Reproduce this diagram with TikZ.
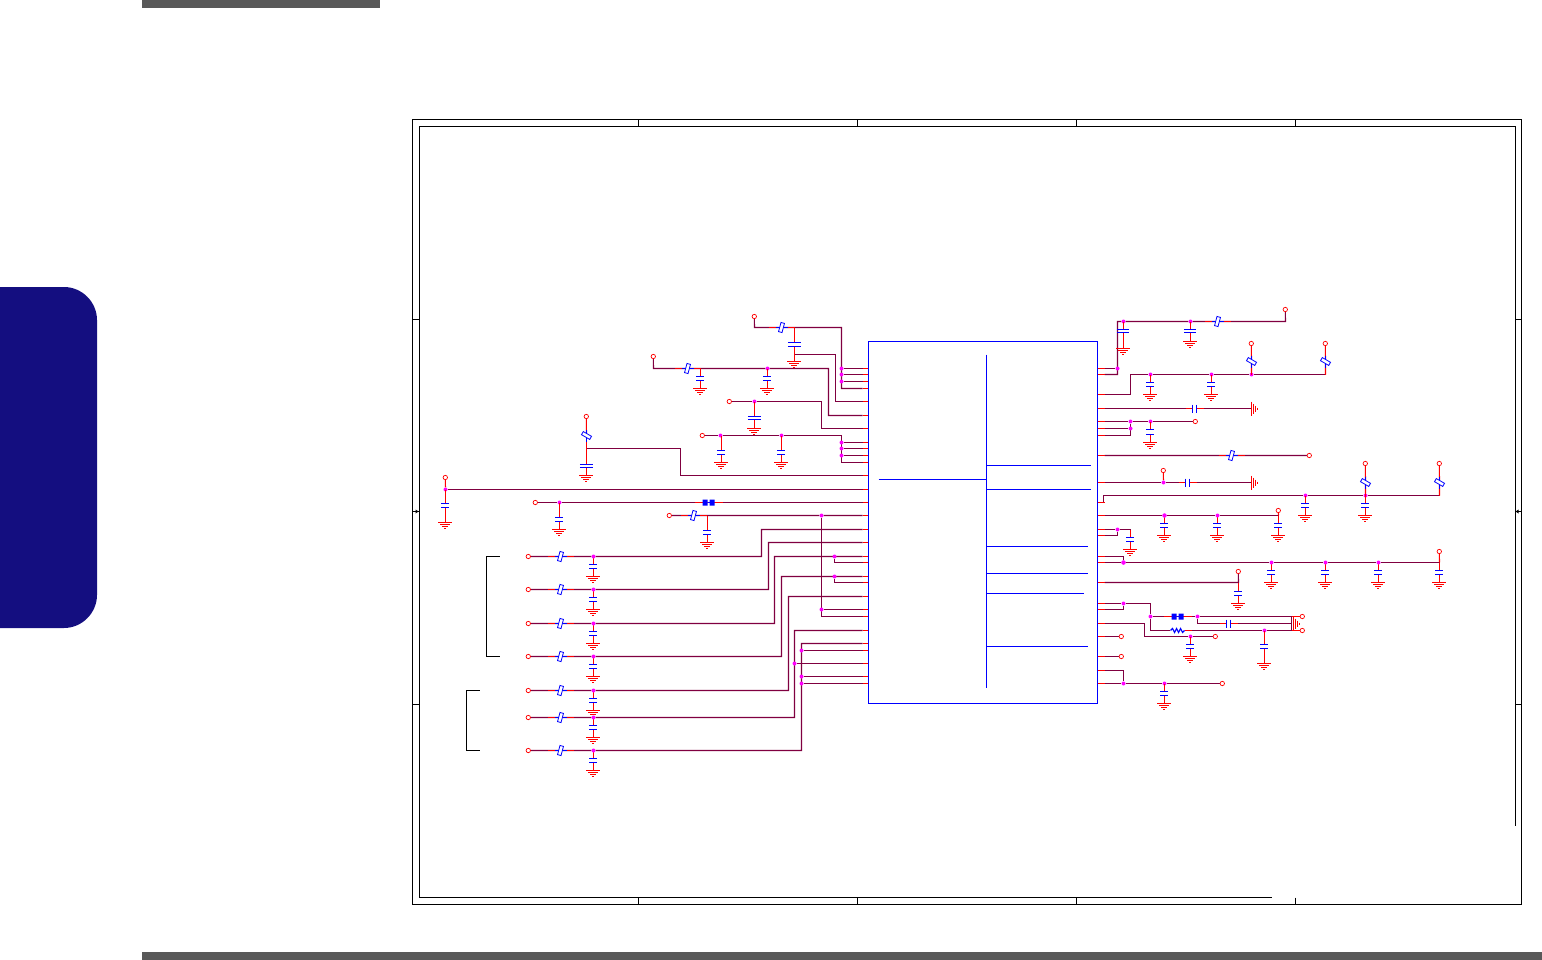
\documentclass[tikz,border=0pt]{standalone}
\usetikzlibrary{backgrounds}

\definecolor{netcol}{RGB}{128,0,64}
\definecolor{tabcol}{RGB}{20,14,128}
\definecolor{barcol}{RGB}{89,89,89}
\definecolor{dotcol}{RGB}{255,0,255}

\tikzset{
    wire/.style={draw=netcol,line width=1.1pt},
    stub/.style={draw=red,line width=1.1pt},
    body/.style={draw=blue,line width=1.1pt},
    frameline/.style={draw=black,line width=1.2pt},
    pad/.style={circle,draw=red,fill=white,line width=0.7pt,inner sep=0pt,minimum size=4.4pt,xshift=-0.2pt},
    junc/.style={circle,fill=dotcol,inner sep=0pt,minimum size=4pt},
    res/.style={rectangle,draw=blue,fill=white,line width=0.8pt,inner sep=0pt,
        minimum width=3.6pt,minimum height=9.5pt,rotate=-15},
    resup/.style={res,rotate=75},
    gap/.style={rectangle,inner sep=0pt,minimum width=4pt,minimum height=8pt},
    chip/.style={rectangle,draw=blue,line width=1.1pt,inner sep=0pt,
        minimum width=229pt,minimum height=362pt}
}

% ground pointing down, then ground pointing right
\newcommand{\gnd}[2]{
    \foreach \g/\h in {0/7,2/5,4/3,6/1}
        \draw[stub] (#1-\h,#2+\g) -- (#1+\h,#2+\g);
}
\newcommand{\gndr}[2]{
    \foreach \g/\h in {0/7,2/5,4/3,6/1}
        \draw[stub] (#1+\g,#2-\h) -- (#1+\g,#2+\h);
}
% x, wire y, first plate, second plate, ground y, half plate
\newcommand{\capg}[6]{
    \begin{scope}[xshift=-0.15pt]
    \draw[stub] (#1,#2) -- (#1,#3) (#1,#4) -- (#1,#5);
    \draw[body] (#1-#6,#3) -- (#1+#6,#3) (#1-#6,#4) -- (#1+#6,#4);
    \gnd{#1}{#5}
    \end{scope}
}
% name, first plate x, second plate x, y
\newcommand{\caph}[4]{
    \node[gap] (#1) at ({(#2+#3)/2},#4) {};
    \draw[stub] (#2-7,#4) -- (#2,#4) (#3,#4) -- (#3+7,#4);
    \draw[body] (#2,#4-4) -- (#2,#4+4) (#3,#4-4) -- (#3,#4+4);
}
% name, x, y
\newcommand{\resh}[3]{
    \draw[stub] (#2-13,#3) -- (#2+13,#3);
    \draw[body] (#2-6,#3) -- (#2+6,#3);
    \node[res] (#1) at (#2,#3) {};
}
\newcommand{\resv}[3]{
    \draw[stub] (#2,#3-13) -- (#2,#3+13);
    \draw[body] (#2,#3-6) -- (#2,#3+6);
    \node[resup] (#1) at (#2,#3) {};
}
\newcommand{\fuse}[3]{
    \draw[stub] (#2-14,#3) -- (#2+14,#3);
    \node[gap,minimum width=12pt,minimum height=6pt] (#1) at (#2,#3) {};
    \fill[blue] (#2-6,#3-3) rectangle (#2-1,#3+3) (#2+1,#3-3) rectangle (#2+6,#3+3);
    \draw[body] (#2-1,#3) -- (#2+1,#3);
}

\begin{document}
\begin{tikzpicture}[x=1pt,y=-1pt]
    \useasboundingbox (0,0) rectangle (1542,960);

    % Page furniture
    \fill[barcol] (142,0) rectangle (380,8);
    \fill[barcol] (142,952) rectangle (1542,960);
    \fill[tabcol] (0,287) -- (64,287) .. controls (82,287) and (97,302) .. (97,320)
        -- (97,595) .. controls (97,613) and (82,628) .. (64,628) -- (0,628) -- cycle;

    \begin{scope}[shift={(0.5,0.5)}]
    % Sheet frame
    \draw[frameline] (412,119) rectangle (1521,904);
    \draw[frameline] (1271,897) -- (419,897) -- (419,126) -- (1515,126) -- (1515,825);
    \foreach \x in {638,857,1076,1295} {
        \draw[frameline] (\x,119) -- (\x,126);
        \draw[frameline] (\x,897) -- (\x,904);
    }
    \foreach \y in {319,511,704} {
        \draw[frameline] (412,\y) -- (419,\y);
        \draw[frameline] (1515,\y) -- (1521,\y);
    }
    \fill[black] (415,509) -- (418,511) -- (415,513) -- cycle;
    \fill[black] (1518,509) -- (1515,511) -- (1518,513) -- cycle;

    % Chip pins
    \foreach \y in {368,374,381,388,401,415,428,442,448,455,462,475,489,502,515,529,542,
                    556,562,576,582,596,609,616,630,643,650,663,676,683} {
        \coordinate (L\y) at (862,\y);
        \draw[stub] (L\y) -- (868,\y);
    }
    \foreach \y in {368,374,394,408,421,428,435,455,482,502,515,529,535,556,562,582,
                    603,609,623,636,656,670,683} {
        \coordinate (R\y) at (1104,\y);
        \draw[stub] (1097,\y) -- (R\y);
    }

    % Chip body
    \node[chip] (U1) at (982.5,522) {};
    \draw[body] (986,354) -- (986,687);
    \draw[body] (878,479) -- (986,479);
    \foreach \y/\x in {465/1090,489/1090,546/1087,573/1087,593/1083,646/1087}
        \draw[body] (986,\y) -- (\x,\y);

    % Left inputs, top group
    \node[pad] (PA) at (754,316) {};
    \resh{RA}{781}{327}
    \capg{794}{327}{342}{346}{361}{6.5}
    \foreach \n/\y in {1/368,2/374,3/381}
        \node[junc] (JA\n) at (841,\y) {};

    \node[pad] (PB) at (653,356) {};
    \resh{RB}{687}{368}
    \node[junc] (JB) at (767,368) {};
    \capg{700}{368}{376}{380}{388}{4}
    \capg{767}{368}{376}{380}{388}{4}

    \node[pad] (PC) at (729,401) {};
    \node[junc] (JC) at (754,401) {};
    \capg{754}{401}{416}{419}{428}{6.5}

    \node[pad] (PD) at (702,435) {};
    \node[junc] (JD1) at (720,435) {};
    \node[junc] (JD2) at (781,435) {};
    \capg{721}{435}{450}{454}{462}{4}
    \capg{781}{435}{450}{454}{462}{4}
    \foreach \n/\y in {3/442,4/448,5/455}
        \node[junc] (JD\n) at (841,\y) {};

    \node[pad] (PE) at (586,416) {};
    \resv{RE}{586}{435}
    \capg{586}{448}{464}{467}{475}{6.5}

    \node[pad] (PF) at (445,477) {};
    \node[junc] (JF) at (445,489) {};
    \capg{445}{489}{503}{507}{522}{4}

    \node[pad] (PG) at (535,502) {};
    \node[junc] (JG) at (559,502) {};
    \capg{559}{502}{517}{521}{529}{4}
    \fuse{FG}{708}{502}

    \node[pad] (PH) at (669,515) {};
    \resh{RH}{693}{515}
    \capg{707}{515}{530}{534}{542}{4}
    \node[junc] (JH) at (821,515) {};
    \node[junc] (JI) at (821,609) {};

    % Left inputs, seven rows
    \foreach \n/\y in {1/556,2/589,3/623,4/656,5/690,6/717,7/750} {
        \capg{593}{\y}{\y+8}{\y+12}{\y+20}{4}
        \node[pad] (P\n) at (528,\y) {};
        \resh{S\n}{560}{\y}
        \node[junc] (J\n) at (593,\y) {};
    }
    \node[junc] (JP3) at (834,556) {};
    \node[junc] (JP4) at (834,576) {};
    \node[junc] (JP6) at (794,663) {};
    \node[junc] (JP7) at (801,650) {};
    \node[junc] (JP8) at (801,676) {};
    \node[junc] (JP9) at (801,683) {};

    % Brackets
    \draw[frameline] (499,556) -- (486,556) -- (486,656) -- (499,656);
    \draw[frameline] (479,690) -- (466,690) -- (466,750) -- (479,750);

    % Right outputs, upper half
    \node[junc] (JU0) at (1117,368) {};
    \node[junc] (JU1) at (1123,321) {};
    \node[junc] (JU2) at (1190,321) {};
    \resh{RU}{1217}{321}
    \node[pad] (PU) at (1285,309) {};
    \capg{1123}{321}{329}{332}{348}{6}
    \capg{1190}{321}{329}{332}{341}{6}

    \node[junc] (JV1) at (1150,374) {};
    \node[junc] (JV2) at (1211,374) {};
    \node[junc] (JV3) at (1251,374) {};
    \capg{1150}{374}{382}{386}{394}{4}
    \capg{1211}{374}{382}{386}{394}{4}
    \resv{RV1}{1251}{361}
    \resv{RV2}{1325}{361}
    \node[pad] (PV1) at (1251,343) {};
    \node[pad] (PV2) at (1325,343) {};

    \caph{CW}{1192}{1196}{408}
    \gndr{1251}{408}

    \node[junc] (JW1) at (1130,421) {};
    \node[junc] (JW2) at (1150,421) {};
    \node[junc] (JW3) at (1130,428) {};
    \node[pad] (PW) at (1195,421) {};
    \capg{1150}{421}{429}{434}{442}{4}

    \resh{RX}{1231}{455}
    \node[pad] (PX) at (1309,455) {};

    \node[junc] (JY) at (1163,482) {};
    \node[pad] (PY) at (1163,470) {};
    \caph{CY}{1185}{1189}{482}
    \gndr{1251}{482}

    \node[junc] (JZ1) at (1305,495) {};
    \node[junc] (JZ2) at (1365,495) {};
    \capg{1305}{495}{503}{507}{515}{4}
    \capg{1365}{495}{503}{507}{515}{4}
    \resv{RZ1}{1365}{482}
    \resv{RZ2}{1439}{482}
    \node[pad] (PZ1) at (1365,463) {};
    \node[pad] (PZ2) at (1439,463) {};

    % Right outputs, lower half
    \foreach \x in {1164,1217,1278}
        \capg{\x}{515}{523}{527}{535}{4}
    \node[junc] (JK1) at (1164,515) {};
    \node[junc] (JK2) at (1217,515) {};
    \node[pad] (PK) at (1278,510) {};

    \node[junc] (JM) at (1117,529) {};
    \capg{1130}{529}{537}{541}{549}{4}

    \foreach \x in {1271,1325,1378,1439}
        \capg{\x}{562}{570}{574}{582}{4}
    \node[junc] (JN0) at (1123,562) {};
    \node[junc] (JN1) at (1271,562) {};
    \node[junc] (JN2) at (1325,562) {};
    \node[junc] (JN3) at (1378,562) {};
    \node[pad] (PN) at (1439,551) {};

    \node[pad] (PO) at (1238,571) {};
    \capg{1238}{582}{591}{595}{603}{4}

    \node[junc] (JQ0) at (1123,603) {};
    \node[junc] (JQ1) at (1150,616) {};
    \node[junc] (JQ2) at (1197,616) {};
    \node[junc] (JQ3) at (1264,630) {};
    \fuse{FQ}{1177}{616}
    \caph{CQ}{1226}{1230}{623}
    \draw[stub] (1170,630) -- (1191,630);
    \node[gap,minimum width=14pt] (RQ) at (1177,630) {};
    \fill[white] (1170,626) rectangle (1184,634);
    \draw[body] (1170,630) -- (1172,628) -- (1174,632) -- (1176,628) -- (1178,632)
        -- (1180,628) -- (1182,632) -- (1184,630);
    \capg{1264}{630}{644}{648}{663}{4}
    \gndr{1293}{623}
    \draw[stub] (1291,616) -- (1300,616) (1291,630) -- (1300,630);
    \node[pad] (PQ1) at (1302,616) {};
    \node[pad] (PQ2) at (1302,630) {};

    \node[junc] (JS) at (1190,636) {};
    \node[pad] (PS) at (1215,636) {};
    \capg{1190}{636}{644}{648}{656}{4}
    \node[pad] (PT1) at (1121,636) {};
    \node[pad] (PT2) at (1121,656) {};

    \node[junc] (JW0) at (1123,683) {};
    \node[junc] (JW4) at (1164,683) {};
    \node[pad] (PW2) at (1222,683) {};
    \capg{1164}{683}{691}{695}{703}{4}

    % Wires under the symbols
    \begin{scope}[on background layer]
    % Left side
    \coordinate (A0) at (754,327);
    \coordinate (A1) at (841,327);
    \coordinate (A2) at (794,354);
    \coordinate (A3) at (835,354);
    \draw[wire] (PA) -- (A0) -- (RA) -- (A1) |- (L388);
    \foreach \n/\y in {1/368,2/374,3/381}
        \draw[wire] (JA\n) -- (L\y);
    \draw[wire] (A2) -- (A3) |- (L401);

    \coordinate (B0) at (653,368);
    \coordinate (B1) at (828,368);
    \draw[wire] (PB) -- (B0) -- (RB) -- (JB) -- (B1) |- (L415);

    \coordinate (C1) at (821,401);
    \draw[wire] (PC) -- (JC) -- (C1) |- (L428);

    \coordinate (D1) at (841,435);
    \draw[wire] (PD) -- (JD1) -- (JD2) -- (D1) |- (L462);
    \foreach \n/\y in {3/442,4/448,5/455}
        \draw[wire] (JD\n) -- (L\y);

    \coordinate (E0) at (586,448);
    \coordinate (E1) at (680,448);
    \draw[stub] (PE) -- (RE);
    \draw[wire] (E0) -- (E1) |- (L475);

    \draw[stub] (PF) -- (JF);
    \draw[wire] (JF) -- (L489);
    \draw[wire] (PG) -- (JG) -- (FG) -- (L502);
    \draw[wire] (PH) -- (RH) -- (JH) -- (L515);
    \coordinate (H1) at (821,616);
    \draw[wire] (JH) -- (H1) -- (L616);
    \draw[wire] (JI) -- (L609);

    \foreach \n/\x/\t in {1/761/529,2/768/542,3/774/556,4/781/576,5/788/596,6/794/630,7/801/643} {
        \coordinate (K\n) at (\x,\t);
        \draw[wire] (P\n) -- (S\n) -- (J\n) -| (K\n) -- (L\t);
    }
    \draw[wire] (JP3) |- (L562);
    \draw[wire] (JP4) |- (L582);
    \draw[wire] (JP6) -- (L663);
    \draw[wire] (JP7) -- (L650);
    \draw[wire] (JP8) -- (L676);
    \draw[wire] (JP9) -- (L683);

    % Right side
    \coordinate (U0) at (1117,374);
    \coordinate (U2) at (1117,321);
    \coordinate (U3) at (1285,321);
    \draw[wire] (R368) -- (JU0);
    \draw[wire] (R374) -- (U0) -- (U2) -- (JU1) -- (JU2) -- (RU) -- (U3) -- (PU);

    \coordinate (V0) at (1130,394);
    \coordinate (V1) at (1130,374);
    \coordinate (V2) at (1325,374);
    \draw[wire] (R394) -- (V0) -- (V1) -- (JV1) -- (JV2) -- (JV3) -- (V2);
    \draw[stub] (JV3) -- (RV1) -- (PV1);
    \draw[stub] (V2) -- (RV2) -- (PV2);

    \coordinate (GW) at (1251,408);
    \draw[wire] (R408) -- (CW) -- (GW);

    \coordinate (W0) at (1130,435);
    \draw[wire] (R421) -- (JW1) -- (JW2) -- (PW);
    \draw[wire] (R428) -- (JW3);
    \draw[wire] (R435) -- (W0) -- (JW1);

    \draw[wire] (R455) -- (RX) -- (PX);

    \coordinate (GY) at (1251,482);
    \draw[wire] (R482) -- (JY) -- (CY) -- (GY);
    \draw[stub] (JY) -- (PY);

    \coordinate (Z0) at (1103,502);
    \coordinate (Z1) at (1103,495);
    \coordinate (Z2) at (1439,495);
    \draw[wire] (R502) -- (Z0) -- (Z1) -- (JZ1) -- (JZ2) -- (Z2);
    \draw[stub] (JZ2) -- (RZ1) -- (PZ1);
    \draw[stub] (Z2) -- (RZ2) -- (PZ2);

    \coordinate (K0) at (1278,515);
    \draw[wire] (R515) -- (JK1) -- (JK2) -- (K0);
    \draw[stub] (K0) -- (PK);

    \coordinate (M0) at (1130,529);
    \coordinate (M1) at (1117,535);
    \draw[wire] (R529) -- (JM) -- (M0);
    \draw[wire] (R535) -- (M1) -- (JM);

    \coordinate (N0) at (1123,556);
    \coordinate (N1) at (1439,562);
    \draw[wire] (R556) -- (N0) -- (JN0);
    \draw[wire] (R562) -- (JN0) -- (JN1) -- (JN2) -- (JN3) -- (N1);
    \draw[stub] (N1) -- (PN);

    \coordinate (O0) at (1238,582);
    \draw[wire] (R582) -- (O0) -- (PO);

    \coordinate (Q0) at (1150,603);
    \coordinate (Q1) at (1123,609);
    \coordinate (Q2) at (1150,630);
    \coordinate (Q3) at (1197,623);
    \coordinate (Q4) at (1291,616);
    \coordinate (Q5) at (1291,623);
    \coordinate (Q6) at (1291,630);
    \draw[wire] (R603) -- (JQ0) -- (Q0) -- (JQ1) -- (Q2) -- (RQ) -- (JQ3) -- (Q6);
    \draw[wire] (R609) -- (Q1) -- (JQ0);
    \draw[wire] (JQ1) -- (FQ) -- (JQ2) -- (Q4);
    \draw[wire] (JQ2) -- (Q3) -- (CQ) -- (Q5);
    \draw[wire] (Q4) -- (Q6);

    \coordinate (S0) at (1144,623);
    \coordinate (S1) at (1144,636);
    \draw[wire] (R623) -- (S0) -- (S1) -- (JS) -- (PS);
    \draw[wire] (R636) -- (PT1);
    \draw[wire] (R656) -- (PT2);

    \coordinate (T0) at (1123,670);
    \draw[wire] (R670) -- (T0) -- (JW0);
    \draw[wire] (R683) -- (JW0) -- (JW4) -- (PW2);
    \end{scope}
    \end{scope}
\end{tikzpicture}
\end{document}
